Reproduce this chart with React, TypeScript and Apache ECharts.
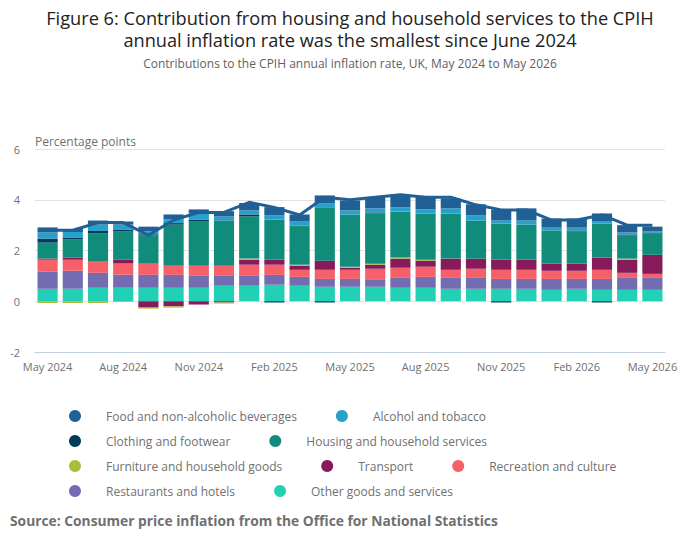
import React, { useEffect, useRef } from "react";
import * as echarts from "echarts";

const months = [
  "May 2024", "Jun 2024", "Jul 2024", "Aug 2024", "Sep 2024", "Oct 2024", "Nov 2024", "Dec 2024",
  "Jan 2025", "Feb 2025", "Mar 2025", "Apr 2025", "May 2025", "Jun 2025", "Jul 2025", "Aug 2025",
  "Sep 2025", "Oct 2025", "Nov 2025", "Dec 2025", "Jan 2026", "Feb 2026", "Mar 2026", "Apr 2026", "May 2026",
];

const otherGoods = [0.49, 0.49, 0.53, 0.53, 0.53, 0.53, 0.53, 0.61, 0.61, 0.65, 0.61, 0.57, 0.57, 0.57, 0.53, 0.53, 0.49, 0.49, 0.49, 0.49, 0.45, 0.49, 0.45, 0.45, 0.45];
const restaurants = [0.67, 0.71, 0.59, 0.51, 0.51, 0.51, 0.47, 0.39, 0.39, 0.39, 0.35, 0.31, 0.31, 0.27, 0.39, 0.43, 0.43, 0.43, 0.39, 0.39, 0.43, 0.39, 0.43, 0.47, 0.47];
const recreation = [0.48, 0.44, 0.44, 0.45, 0.44, 0.36, 0.40, 0.40, 0.44, 0.40, 0.28, 0.36, 0.36, 0.44, 0.40, 0.40, 0.32, 0.36, 0.36, 0.36, 0.32, 0.32, 0.36, 0.20, 0.16];
const transport = [0.04, 0.08, 0, 0.15, -0.25, -0.2, -0.13, -0.05, 0.2, 0.2, 0.16, 0.36, 0.08, 0.16, 0.36, 0.24, 0.44, 0.4, 0.4, 0.4, 0.28, 0.28, 0.48, 0.52, 0.75];
const furniture = [-0.07, -0.07, -0.07, -0.03, -0.04, -0.05, 0, -0.04, 0.04, 0, 0.04, 0, 0.04, 0.04, 0.04, 0.04, 0, 0, 0, 0, 0, 0, 0, 0.04, 0];
const housing = [0.63, 0.71, 1.11, 1.11, 1.12, 1.62, 1.74, 1.74, 1.66, 1.58, 1.52, 2.1, 2.06, 1.98, 1.82, 1.82, 1.78, 1.5, 1.42, 1.38, 1.31, 1.27, 1.34, 0.91, 0.84];
const clothing = [0.16, 0.08, 0.1, 0.08, 0.04, 0.06, 0.08, 0.04, 0.08, -0.05, 0.02, -0.05, 0, 0.04, 0, 0, 0, 0, -0.05, 0, 0, 0.04, -0.05, 0.04, 0.04];
const alcohol = [0.24, 0.22, 0.25, 0.19, 0.12, 0.15, 0.24, 0.16, 0.16, 0.16, 0.16, 0.15, 0.16, 0.16, 0.16, 0.16, 0.2, 0.2, 0.12, 0.16, 0.11, 0.11, 0.08, 0.08, 0.04];
const food = [0.2, 0.12, 0.16, 0.12, 0.18, 0.19, 0.16, 0.21, 0.29, 0.33, 0.28, 0.32, 0.39, 0.45, 0.47, 0.51, 0.39, 0.44, 0.44, 0.48, 0.36, 0.36, 0.32, 0.29, 0.19];
const cpihRate = [2.8, 2.8, 3.1, 3.1, 2.6, 3.2, 3.5, 3.5, 3.9, 3.7, 3.4, 4.1, 4.0, 4.1, 4.2, 4.1, 4.1, 3.8, 3.6, 3.6, 3.2, 3.2, 3.4, 3.0, 3.0];

// stacking order: bottom first
const stackSeries = [
  { name: "Other goods and services", data: otherGoods, color: "#22d0b6" },
  { name: "Restaurants and hotels", data: restaurants, color: "#746cb1" },
  { name: "Recreation and culture", data: recreation, color: "#f66068" },
  { name: "Transport", data: transport, color: "#871a5b" },
  { name: "Furniture and household goods", data: furniture, color: "#a8bd3a" },
  { name: "Housing and household services", data: housing, color: "#118c7b" },
  { name: "Clothing and footwear", data: clothing, color: "#003c57" },
  { name: "Alcohol and tobacco", data: alcohol, color: "#27a0cc" },
  { name: "Food and non-alcoholic beverages", data: food, color: "#206095" },
];

const legendRows = [
  ["Food and non-alcoholic beverages", "Alcohol and tobacco"],
  ["Clothing and footwear", "Housing and household services"],
  ["Furniture and household goods", "Transport", "Recreation and culture"],
  ["Restaurants and hotels", "Other goods and services"],
];

const titleText =
  "Figure 6: Contribution from housing and household services to the CPIH\nannual inflation rate was the smallest since June 2024";
const subtitleText = "Contributions to the CPIH annual inflation rate, UK, May 2024 to May 2026";
const yAxisTitle = "Percentage points";
const sourceText = "Source: Consumer price inflation from the Office for National Statistics";

const FONT = "'Open Sans', 'Noto Sans', sans-serif";

export default function App() {
  const ref = useRef<HTMLDivElement>(null);
  useEffect(() => {
    if (!ref.current) return;
    const chart = echarts.init(ref.current, undefined, { renderer: "svg" });
    const option = {
      animation: false,
      textStyle: { fontFamily: FONT },
      grid: { left: 35, right: 35, top: 149, bottom: 197 },
      xAxis: {
        type: "category",
        data: months,
        boundaryGap: true,
        axisLine: { onZero: false, lineStyle: { color: "#c3cfe2", width: 1 } },
        axisTick: { alignWithLabel: true, interval: 2, length: 7, lineStyle: { color: "#c3cfe2" } },
        axisLabel: { interval: 2, color: "#707070", fontSize: 11, margin: 9, fontFamily: FONT },
        splitLine: { show: false },
      },
      yAxis: {
        type: "value",
        min: -2,
        max: 6,
        interval: 2,
        axisLine: { show: false },
        axisTick: { show: false },
        axisLabel: { color: "#707070", fontSize: 11, margin: 15, fontFamily: FONT },
        splitLine: { lineStyle: { color: "#e2e2e2" } },
      },
      legend: legendRows.map((row, i) => ({
        data: row,
        left: 69,
        top: 410 + i * 25,
        orient: "horizontal",
        icon: "circle",
        itemWidth: 52,
        itemHeight: 12,
        itemGap: 39,
        padding: 0,
        selectedMode: false,
        textStyle: { color: "#707070", fontSize: 12, fontFamily: FONT },
      })),
      graphic: [
        {
          type: "text",
          x: 350,
          y: 6.5,
          style: {
            text: titleText,
            align: "center",
            verticalAlign: "top",
            lineHeight: 22.4,
            fill: "#222222",
            font: `18.2px ${FONT}`,
          },
        },
        {
          type: "text",
          x: 350,
          y: 57,
          style: {
            text: subtitleText,
            align: "center",
            verticalAlign: "top",
            fill: "#5f5f5f",
            font: `12px ${FONT}`,
          },
        },
        {
          type: "text",
          left: 35,
          top: 135,
          style: { text: yAxisTitle, fill: "#707070", font: `12px ${FONT}` },
        },
        {
          type: "text",
          left: 10,
          top: 513,
          style: { text: sourceText, fill: "#707070", font: `bold 13.8px ${FONT}` },
        },
      ],
      series: [
        ...stackSeries.map((s) => ({
          name: s.name,
          type: "bar",
          stack: "total",
          data: s.data,
          barCategoryGap: "20%",
          itemStyle: { color: s.color },
          emphasis: { disabled: true },
        })),
        {
          name: "CPIH annual rate",
          type: "line",
          data: cpihRate,
          symbol: "none",
          z: 5,
          lineStyle: { color: "#206095", width: 3 },
          itemStyle: { color: "#206095" },
        },
      ],
    };
    chart.setOption(option as any);
    return () => chart.dispose();
  }, []);
  return (
    <div
      ref={ref}
      style={{ position: "fixed", left: 0, top: 0, width: 700, height: 549, background: "#ffffff" }}
    />
  );
}
